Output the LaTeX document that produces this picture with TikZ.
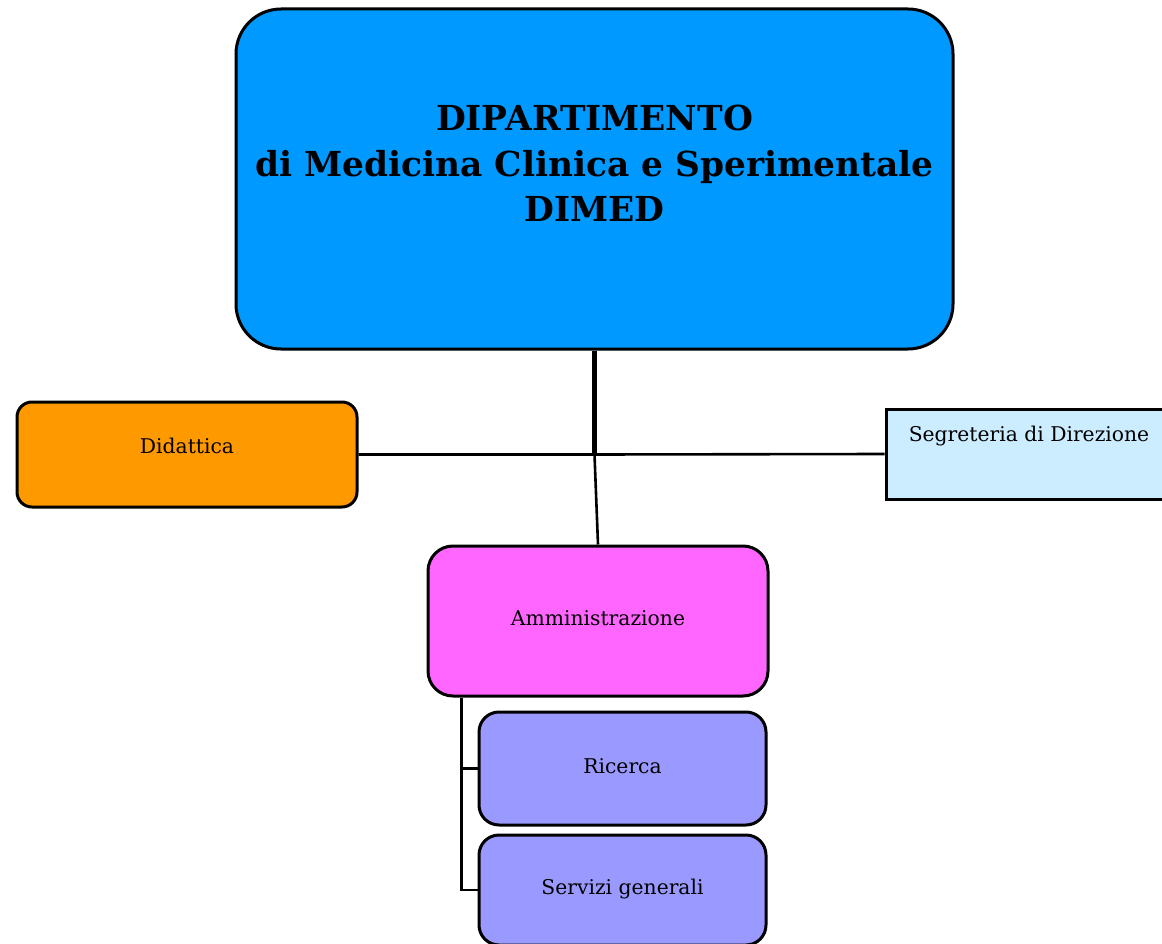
\documentclass[tikz,border=0pt]{standalone}
\usepackage{fontspec}
\setmainfont{DejaVu Serif}
\usetikzlibrary{positioning}

\definecolor{deptblue}{HTML}{0099FF}
\definecolor{didorange}{HTML}{FF9900}
\definecolor{segblue}{HTML}{CCECFF}
\definecolor{ammpink}{HTML}{FF66FF}
\definecolor{servlilac}{HTML}{9999FF}

\tikzstyle{unit} = [draw, rectangle, line width=3pt, rounded corners=20pt,
    font=\fontsize{20.3}{24}\selectfont, text height=15pt]
\tikzstyle{link} = [draw, line width=2.6pt]
\tikzstyle{junction} = [coordinate]

\begin{document}
\begin{tikzpicture}[x=1pt, y=-1pt, node distance=7pt]
\useasboundingbox (0,0) rectangle (1162,944);

  % top box
  \node [unit, fill=deptblue, rounded corners=45pt, align=center,
    minimum width=717pt, minimum height=340pt,
    font=\bfseries\fontsize{34.4}{45.5}\selectfont,
    text height=100pt, text depth=14.6pt] (dept) at (594.5,179)
    {DIPARTIMENTO\\di Medicina Clinica e Sperimentale\\DIMED};

  \node [unit, fill=didorange, rounded corners=15pt,
    minimum width=340pt, minimum height=105pt, text depth=18pt]
    (didattica) at (187,454.5) {Didattica};
  \node [unit, fill=segblue, sharp corners,
    minimum width=286pt, minimum height=90pt, text depth=39.6pt]
    (segreteria) at (1029,454) {Segreteria di Direzione};

  \node [unit, fill=ammpink, rounded corners=25pt,
    minimum width=340pt, minimum height=150pt, text depth=5.6pt]
    (ammin) at (598,621) {Amministrazione};
  \node [unit, fill=servlilac,
    minimum width=287pt, minimum height=113pt, text depth=6pt]
    (ricerca) at (622.5,768.5) {Ricerca};
  \node [unit, fill=servlilac, below=of ricerca,
    minimum width=287pt, minimum height=110pt, text depth=7pt]
    (servizi) {Servizi generali};

  \node [junction] (hub) at (dept.south |- didattica.east) {};
  \node [junction] (trunk) at ([xshift=35pt]ammin.south west) {};

  \draw [link, line width=4.5pt] (dept.south) -- (hub);
  \draw [link] (didattica.east) -- (hub) -- (segreteria.west);
  \draw [link] (hub) -- (ammin.north);
  \draw [link] (trunk) |- (servizi.west);
  \draw [link] (trunk |- ricerca.west) -- (ricerca.west);

\end{tikzpicture}
\end{document}
